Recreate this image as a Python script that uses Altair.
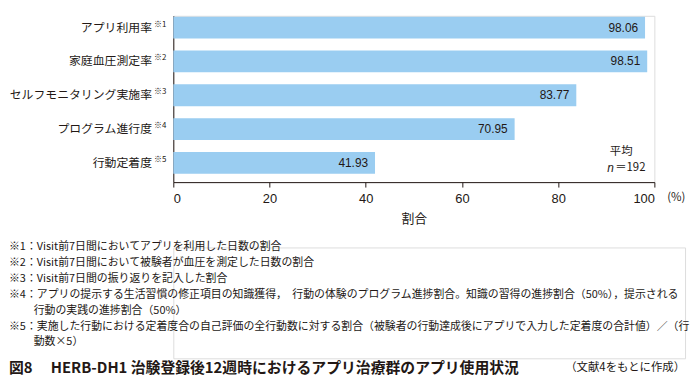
import altair as alt
import pandas as pd

JP = "Noto Sans CJK JP"
NUM = "Liberation Sans"
INK = "#231815"
BAR = "#9ACDF1"

categories = ["アプリ利用率", "家庭血圧測定率", "セルフモニタリング実施率", "プログラム進行度", "行動定着度"]
sup_marks = ["※1", "※2", "※3", "※4", "※5"]
values = [98.06, 98.51, 83.77, 70.95, 41.93]
x_ticks = [0, 20, 40, 60, 80, 100]
axis_title = "割合"
unit_text = "(%)"
mean_text = "平均"
n_letter = "n"
n_value = "＝192"

note_first_lines = [
    "※1：Visit前7日間においてアプリを利用した日数の割合",
    "※2：Visit前7日間において被験者が血圧を測定した日数の割合",
    "※3：Visit前7日間の振り返りを記入した割合",
    "※4：アプリの提示する生活習慣の修正項目の知識獲得，　行動の体験のプログラム進捗割合。知識の習得の進捗割合（50%），提示される",
    "※5：実施した行動における定着度合の自己評価の全行動数に対する割合（被験者の行動達成後にアプリで入力した定着度の合計値）／（行",
]
note_first_rows = [0, 1, 2, 3, 5]
note_cont_lines = ["行動の実践の進捗割合（50%）", "動数×5）"]
note_cont_rows = [4, 6]
caption_left = "図8　 HERB-DH1 治験登録後12週時におけるアプリ治療群のアプリ使用状況"
caption_right = "（文献4をもとに作成）"
caption_row = 7

df = pd.DataFrame({
    "item": categories,
    "sup": sup_marks,
    "value": values,
    "label": [f"{v:.2f}" for v in values],
})

y_enc = alt.Y(
    "item:N",
    sort=categories,
    scale=alt.Scale(paddingInner=0.355, paddingOuter=0.139, align=0.105),
    axis=alt.Axis(
        title=None, ticks=False, labelPadding=22, labelFontSize=12, labelFont=JP,
        labelColor=INK, domainColor=INK, labelLimit=400,
    ),
)
x_enc = alt.X(
    "value:Q",
    scale=alt.Scale(domain=[0, 100], nice=False),
    axis=alt.Axis(
        values=x_ticks, title=axis_title, grid=False, tickSize=5, tickColor=INK,
        domainColor=INK, labelFontSize=13, labelFont=NUM, labelColor=INK,
        labelPadding=6, titleFont=JP, titleFontSize=13, titleFontWeight="normal",
        titleColor=INK, titlePadding=7,
    ),
)

base = alt.Chart(df)
bars = base.mark_bar(color=BAR).encode(x=x_enc, y=y_enc)
vals = base.mark_text(align="right", dx=-7, fontSize=12, font=NUM, color=INK).encode(
    x="value:Q", y=alt.Y("item:N", sort=categories), text="label:N"
)
sups = base.mark_text(align="right", dx=-7, dy=-3, fontSize=8, font=JP, color=INK).encode(
    x=alt.datum(0), y=alt.Y("item:N", sort=categories), text="sup:N"
)
last = categories[-1]
one = df.head(1)
mean_t = alt.Chart(one).mark_text(align="right", dx=-22, dy=-11, fontSize=11.5, font=JP, color=INK).encode(
    x=alt.datum(100), y=alt.datum(last), text=alt.value(mean_text)
)
n_t = alt.Chart(one).mark_text(align="right", dx=-41, dy=5, fontSize=12, font=NUM, fontStyle="italic", color=INK).encode(
    x=alt.datum(100), y=alt.datum(last), text=alt.value(n_letter)
)
nv_t = alt.Chart(one).mark_text(align="right", dx=-9, dy=5, fontSize=11.5, font=JP, color=INK).encode(
    x=alt.datum(100), y=alt.datum(last), text=alt.value(n_value)
)
unit_t = alt.Chart(one).mark_text(align="left", dx=13, dy=36, fontSize=11.5, font=JP, color=INK).encode(
    x=alt.datum(100), y=alt.datum(last), text=alt.value(unit_text)
)

top = alt.layer(bars, vals, sups, mean_t, n_t, nv_t, unit_t).properties(width=486, height=168)

notes_first = pd.DataFrame({"row": note_first_rows, "text": note_first_lines})
notes_cont = pd.DataFrame({"row": note_cont_rows, "text": note_cont_lines})
cap_df = pd.DataFrame({"row": [caption_row], "left": [caption_left], "right": [caption_right]})

LEFT = -166  # shift from the shared plot origin to the page's left text margin
ny = alt.Y("row:Q", scale=alt.Scale(domain=[0, 7], reverse=True, nice=False, zero=False), axis=None)
nx = alt.XDatum(0, scale=alt.Scale(domain=[0, 1], nice=False), axis=None)

n1 = alt.Chart(notes_first).mark_text(align="left", dx=LEFT, fontSize=11, font=JP, color=INK).encode(
    x=nx, y=ny, text="text:N"
)
n2 = alt.Chart(notes_cont).mark_text(align="left", dx=LEFT + 25, fontSize=11, font=JP, color=INK).encode(
    x=alt.datum(0), y="row:Q", text="text:N"
)
c1 = alt.Chart(cap_df).mark_text(align="left", dx=LEFT, dy=10, fontSize=15, font=JP, fontWeight="bold", color=INK).encode(
    x=alt.datum(0), y="row:Q", text="left:N"
)
c2 = alt.Chart(cap_df).mark_text(align="right", dy=10, fontSize=11.5, font=JP, color=INK).encode(
    x=alt.datum(1), y="row:Q", text="right:N"
)
notes = alt.layer(n1, n2, c1, c2).properties(width=517, height=112)

chart = (
    alt.vconcat(top, notes, spacing=14)
    .properties(padding={"left": 0, "top": 5, "right": 0, "bottom": 0})
    .configure_view(stroke=None)
    .configure(font=JP)
)

chart.save("out.html", embed_options={"renderer": "svg", "actions": False})
